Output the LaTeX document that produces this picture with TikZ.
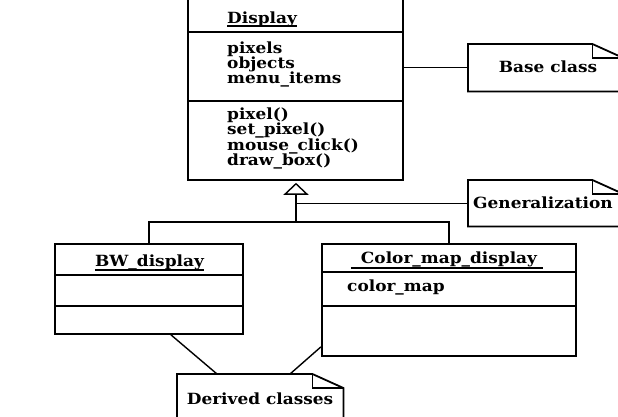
\documentclass[tikz,border=0pt]{standalone}
\usepackage{fontspec}
\newfontfamily\umlfont[FakeStretch=1.1]{DejaVu Serif}
\usetikzlibrary{arrows.meta,calc}

% outline of a UML note with a folded top-right corner
\newcommand\umlnote[1]{%
  \draw[frame] (#1.north west) -- ([xshift=-31pt]#1.north east)
    -- ([yshift=-14pt]#1.north east) -- (#1.south east)
    -- (#1.south west) -- cycle;
  \draw[rule] ([xshift=-31pt]#1.north east) |- ([yshift=-14pt]#1.north east);
}

\begin{document}
\begin{tikzpicture}[x=1pt,y=-1pt,
  frame/.style={line width=1.8pt},
  rule/.style={line width=1.4pt},
  link/.style={line width=1.4pt},
  ul/.style={line width=1.2pt},
  area/.style={draw=none,inner sep=0pt,anchor=north west},
  classbox/.style={draw,line width=1.8pt,inner sep=0pt,anchor=north west},
  txt/.style={font=\umlfont\bfseries\fontsize{15.4}{16}\selectfont,inner sep=0pt}
]
\useasboundingbox (0,0) rectangle (618,416);
\fill[white] (0,0) rectangle (618,416);

% ---- class boxes ----
\node[classbox,minimum width=215pt,minimum height=187pt] (disp) at (187,-8) {};
\draw[rule] ([yshift=-40pt]disp.north west) -- ([yshift=-40pt]disp.north east);
\draw[rule] ([yshift=-109pt]disp.north west) -- ([yshift=-109pt]disp.north east);

\node[classbox,minimum width=188pt,minimum height=90pt] (bw) at (54,243) {};
\draw[rule] ([yshift=-32pt]bw.north west) -- ([yshift=-32pt]bw.north east);
\draw[rule] ([yshift=-63pt]bw.north west) -- ([yshift=-63pt]bw.north east);

\node[classbox,minimum width=254pt,minimum height=112pt] (cmap) at (321,243) {};
\draw[rule] ([yshift=-29pt]cmap.north west) -- ([yshift=-29pt]cmap.north east);
\draw[rule] ([yshift=-63pt]cmap.north west) -- ([yshift=-63pt]cmap.north east);

% ---- notes ----
\node[area,minimum width=155pt,minimum height=47pt] (basenote) at (468,44) {};
\umlnote{basenote}
\node[area,minimum width=155pt,minimum height=46pt] (gennote) at (468,180) {};
\umlnote{gennote}
\node[area,minimum width=166pt,minimum height=60pt] (derived) at (177,374) {};
\umlnote{derived}

% ---- texts ----
\node[txt,anchor=base west] (tdisp) at (227,23) {Display};
\draw[ul] ([yshift=-3pt]tdisp.base west) -- ([yshift=-3pt]tdisp.base east);
\node[txt,anchor=base west] (a1) at (227,53) {pixels};
\node[txt,anchor=base west] (a2) at (227,68) {objects};
\node[txt,anchor=base west] (a3) at (227,83) {menu\_items};
\node[txt,anchor=base west] (m1) at (227,119) {pixel()};
\node[txt,anchor=base west] (m2) at (227,134.5) {set\_pixel()};
\node[txt,anchor=base west] (m3) at (227,150) {mouse\_click()};
\node[txt,anchor=base west] (m4) at (227,165.5) {draw\_box()};

\node[txt,anchor=base] (tbw) at (149.5,266) {BW\_display};
\draw[ul] ([yshift=-4pt]tbw.base west) -- ([yshift=-4pt]tbw.base east);

\node[txt,anchor=base] (tcmap) at (449,263) {Color\_map\_display};
\draw[ul] ([xshift=-10pt,yshift=-5pt]tcmap.base west) -- ([xshift=6pt,yshift=-5pt]tcmap.base east);
\node[txt,anchor=base west] (c1) at (347,291) {color\_map};

\node[txt,anchor=base] (tbase) at (548,72) {Base class};
\node[txt,anchor=base west] (tgen) at (473,208) {Generalization};
\node[txt,anchor=base] (tder) at (260,404) {Derived classes};

% ---- connectors ----
\coordinate (gen) at (296,222);
\draw[link] (bw.north) |- (gen) -| (cmap.north);
\draw[link,-{Triangle[open,width=25pt,length=12pt,line width=1.4pt]}]
  (gen) -- ($(disp.south -| gen)+(0,2)$);
\draw[link] (gennote.west) -- (gennote.west -| gen);
\draw[link] (basenote.west) -- (basenote.west -| disp.east);
\draw[link] ([xshift=22pt]bw.south) -- ([xshift=40pt]derived.north west);
\draw[link] ([yshift=10pt]cmap.south west) -- ([xshift=113pt]derived.north west);
\end{tikzpicture}
\end{document}
